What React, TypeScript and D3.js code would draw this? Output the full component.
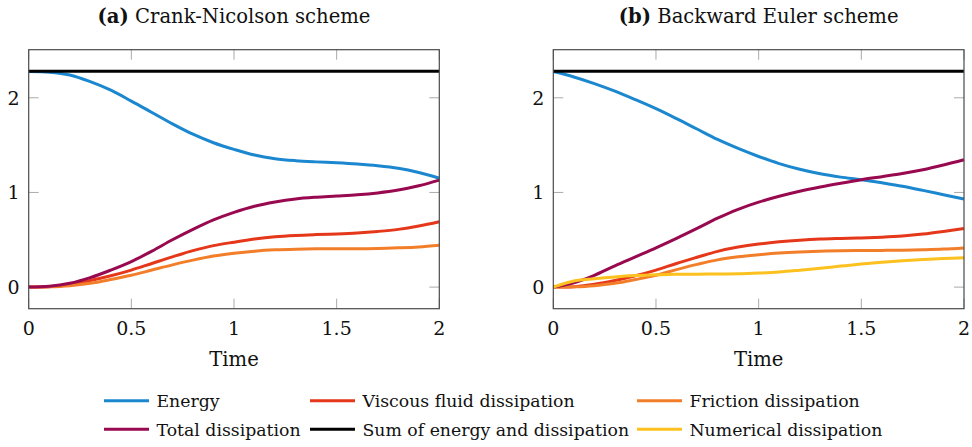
import * as d3 from "d3";

// sample times shared by every series
const time = [
  0, 0.1, 0.2, 0.3, 0.4, 0.5, 0.6, 0.7, 0.8, 0.9, 1.0, 1.1, 1.2, 1.3, 1.4, 1.5,
  1.6, 1.7, 1.8, 1.9, 2.0,
];

// (a) Crank-Nicolson
const cnEnergy = [
  2.277, 2.27, 2.24, 2.17, 2.08, 1.965, 1.845, 1.725, 1.615, 1.525, 1.455,
  1.395, 1.357, 1.336, 1.323, 1.313, 1.3, 1.282, 1.255, 1.21, 1.15,
];
const cnViscous = [
  0, 0.005, 0.03, 0.07, 0.12, 0.18, 0.25, 0.32, 0.385, 0.438, 0.475, 0.508,
  0.532, 0.546, 0.555, 0.562, 0.572, 0.588, 0.61, 0.645, 0.69,
];
const cnFriction = [
  0, 0.003, 0.015, 0.04, 0.08, 0.125, 0.18, 0.235, 0.285, 0.328, 0.358, 0.38,
  0.394, 0.401, 0.404, 0.405, 0.406, 0.408, 0.415, 0.425, 0.443,
];
const cnTotal = [
  0, 0.008, 0.04, 0.1, 0.18, 0.27, 0.38, 0.5, 0.61, 0.71, 0.79, 0.855, 0.9,
  0.932, 0.95, 0.962, 0.975, 0.995, 1.025, 1.07, 1.13,
];
const cnSum = [
  2.28, 2.28, 2.28, 2.28, 2.28, 2.28, 2.28, 2.28, 2.28, 2.28, 2.28, 2.28, 2.28,
  2.28, 2.28, 2.28, 2.28, 2.28, 2.28, 2.28, 2.28,
];

// (b) Backward Euler
const beEnergy = [
  2.277, 2.22, 2.15, 2.07, 1.98, 1.885, 1.78, 1.67, 1.56, 1.465, 1.38, 1.305,
  1.245, 1.197, 1.162, 1.135, 1.102, 1.066, 1.022, 0.976, 0.93,
];
const beViscous = [
  0, 0.005, 0.03, 0.07, 0.12, 0.18, 0.25, 0.315, 0.378, 0.423, 0.455, 0.478,
  0.495, 0.507, 0.514, 0.52, 0.528, 0.54, 0.56, 0.588, 0.62,
];
const beFriction = [
  0, 0.003, 0.015, 0.04, 0.08, 0.125, 0.185, 0.24, 0.288, 0.32, 0.342, 0.36,
  0.372, 0.38, 0.385, 0.387, 0.388, 0.39, 0.395, 0.402, 0.414,
];
const beTotal = [
  0, 0.045, 0.125, 0.225, 0.32, 0.415, 0.515, 0.62, 0.728, 0.822, 0.898, 0.96,
  1.013, 1.058, 1.098, 1.135, 1.167, 1.2, 1.24, 1.29, 1.345,
];
const beSum = [
  2.28, 2.28, 2.28, 2.28, 2.28, 2.28, 2.28, 2.28, 2.28, 2.28, 2.28, 2.28, 2.28,
  2.28, 2.28, 2.28, 2.28, 2.28, 2.28, 2.28, 2.28,
];
const beNumerical = [
  0, 0.065, 0.089, 0.108, 0.122, 0.13, 0.135, 0.137, 0.138, 0.14, 0.148, 0.16,
  0.179, 0.2, 0.222, 0.243, 0.262, 0.278, 0.292, 0.302, 0.31,
];

const xTicks = [0, 0.5, 1, 1.5, 2];
const xTickLabels = ["0", "0.5", "1", "1.5", "2"];
const yTicks = [0, 1, 2];

const COLORS = {
  energy: "#1b87cf",
  viscous: "#e53719",
  friction: "#f37e2a",
  total: "#98094f",
  sum: "#000000",
  numerical: "#fcc11e",
};

const legendItems = [
  { key: "energy", label: "Energy" },
  { key: "viscous", label: "Viscous fluid dissipation" },
  { key: "friction", label: "Friction dissipation" },
  { key: "total", label: "Total dissipation" },
  { key: "sum", label: "Sum of energy and dissipation" },
  { key: "numerical", label: "Numerical dissipation" },
];

const FONT = "'DejaVu Serif', serif";
const W = 972;
const H = 447;
const TOP = 49.7;
const BOTTOM = 308.7;

type Series = { key: keyof typeof COLORS; values: number[] };

const panels: {
  tag: string;
  title: string;
  x0: number;
  x1: number;
  series: Series[];
}[] = [
  {
    tag: "(a)",
    title: " Crank-Nicolson scheme",
    x0: 28.7,
    x1: 439.3,
    series: [
      { key: "energy", values: cnEnergy },
      { key: "viscous", values: cnViscous },
      { key: "friction", values: cnFriction },
      { key: "total", values: cnTotal },
      { key: "sum", values: cnSum },
    ],
  },
  {
    tag: "(b)",
    title: " Backward Euler scheme",
    x0: 553.3,
    x1: 964,
    series: [
      { key: "energy", values: beEnergy },
      { key: "viscous", values: beViscous },
      { key: "friction", values: beFriction },
      { key: "total", values: beTotal },
      { key: "sum", values: beSum },
      { key: "numerical", values: beNumerical },
    ],
  },
];

const yScale = d3.scaleLinear().domain([-0.228, 2.508]).range([BOTTOM, TOP]);

function Panel({ p }: { p: (typeof panels)[number] }) {
  const xScale = d3.scaleLinear().domain([0, 2]).range([p.x0, p.x1]);
  const line = d3
    .line<number>()
    .x((_, i) => xScale(time[i]))
    .y((d) => yScale(d))
    .curve(d3.curveCatmullRom.alpha(0.5));
  const tickLen = 10;
  const cx = (p.x0 + p.x1) / 2;

  return (
    <g>
      <text
        x={cx}
        y={23}
        textAnchor="middle"
        fontFamily={FONT}
        fontSize={19.6}
        fill="#111"
      >
        <tspan fontWeight="bold">{p.tag}</tspan>
        <tspan>{p.title}</tspan>
      </text>

      {/* ticks, inside on both sides */}
      {xTicks.map((t) => (
        <g key={"xt" + t} stroke="#aaa" strokeWidth={1}>
          <line x1={xScale(t)} x2={xScale(t)} y1={BOTTOM} y2={BOTTOM - tickLen} />
          <line x1={xScale(t)} x2={xScale(t)} y1={TOP} y2={TOP + tickLen} />
        </g>
      ))}
      {yTicks.map((v) => (
        <g key={"yt" + v} stroke="#aaa" strokeWidth={1}>
          <line x1={p.x0} x2={p.x0 + tickLen} y1={yScale(v)} y2={yScale(v)} />
          <line x1={p.x1} x2={p.x1 - tickLen} y1={yScale(v)} y2={yScale(v)} />
        </g>
      ))}

      {p.series.map((s) => (
        <path
          key={s.key}
          d={line(s.values) ?? ""}
          fill="none"
          stroke={COLORS[s.key]}
          strokeWidth={3}
        />
      ))}

      <rect
        x={p.x0}
        y={TOP}
        width={p.x1 - p.x0}
        height={BOTTOM - TOP}
        fill="none"
        stroke="#4a4a4a"
        strokeWidth={1.2}
      />

      {xTicks.map((t, i) => (
        <text
          key={"xl" + t}
          x={xScale(t)}
          y={335}
          textAnchor="middle"
          fontFamily={FONT}
          fontSize={19}
          fill="#111"
        >
          {xTickLabels[i]}
        </text>
      ))}
      {yTicks.map((v) => (
        <text
          key={"yl" + v}
          x={p.x0 - 9}
          y={yScale(v)}
          dy="0.36em"
          textAnchor="end"
          fontFamily={FONT}
          fontSize={19}
          fill="#111"
        >
          {v}
        </text>
      ))}
      <text
        x={cx}
        y={366}
        textAnchor="middle"
        fontFamily={FONT}
        fontSize={19.6}
        fill="#111"
      >
        Time
      </text>
    </g>
  );
}

export default function App() {
  const colX = [104, 310, 637];
  const rowY = [400.7, 429.3];
  return (
    <svg
      width={W}
      height={H}
      viewBox={`0 0 ${W} ${H}`}
      style={{ position: "absolute", left: 0, top: 0, background: "#fff" }}
    >
      <rect width={W} height={H} fill="#fff" />
      {panels.map((p) => (
        <Panel key={p.tag} p={p} />
      ))}
      {legendItems.map((item, i) => {
        const x = colX[i % 3];
        const y = rowY[Math.floor(i / 3)];
        return (
          <g key={item.key}>
            <line
              x1={x}
              x2={x + 45}
              y1={y}
              y2={y}
              stroke={COLORS[item.key as keyof typeof COLORS]}
              strokeWidth={3}
            />
            <text
              x={x + 52.5}
              y={y}
              dy="0.36em"
              fontFamily={FONT}
              fontSize={17.3}
              fill="#111"
            >
              {item.label}
            </text>
          </g>
        );
      })}
    </svg>
  );
}
